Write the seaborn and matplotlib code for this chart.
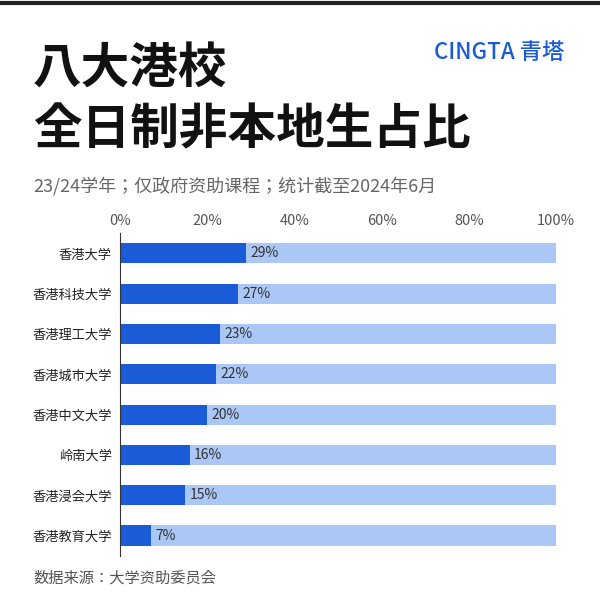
import matplotlib
matplotlib.use("Agg")
import matplotlib.pyplot as plt
from matplotlib import font_manager as fm
import seaborn as sns
import pandas as pd
import glob

for f in glob.glob("/usr/share/fonts/**/*CJK*", recursive=True) + glob.glob("/usr/share/fonts/**/*Noto*Sans*SC*", recursive=True):
    try:
        fm.fontManager.addfont(f)
    except Exception:
        pass
names = sorted({f.name for f in fm.fontManager.ttflist if "CJK" in f.name})
plt.rcParams["font.family"] = ["Noto Sans CJK SC", "Noto Sans CJK JP"] + names + ["DejaVu Sans"]

schools = ["香港大学", "香港科技大学", "香港理工大学", "香港城市大学", "香港中文大学", "岭南大学", "香港浸会大学", "香港教育大学"]
values = [29, 27, 23, 22, 20, 16, 15, 7]
ticks = [0, 20, 40, 60, 80, 100]
tick_labels = ["0%", "20%", "40%", "60%", "80%", "100%"]

df = pd.DataFrame({"school": schools, "value": values, "full": [100] * len(schools)})

fig = plt.figure(figsize=(6, 5.95), dpi=100)
ax = fig.add_axes([0.2, 0.066, 0.727, 0.542])
sns.barplot(data=df, y="school", x="full", color="#aac7f6", width=0.5, ax=ax, saturation=1)
sns.barplot(data=df, y="school", x="value", color="#1a5cd7", width=0.5, ax=ax, saturation=1)
for i, v in enumerate(values):
    ax.text(v + 1, i, f"{v}%", va="center", ha="left", fontsize=10, color="#333333")

ax.set_xlim(0, 100)
ax.set_xticks(ticks)
ax.set_xticklabels(tick_labels)
ax.xaxis.tick_top()
ax.tick_params(axis="x", length=0, labelsize=10.5, colors="#555555", pad=4)
ax.tick_params(axis="y", length=0, labelsize=9.5, colors="#222222", pad=6)
ax.set_xlabel("")
ax.set_ylabel("")
for s in ["top", "right", "bottom"]:
    ax.spines[s].set_visible(False)
ax.spines["left"].set_color("#333333")

fig.add_artist(plt.Line2D([0, 1], [0.995, 0.995], color="#222222", lw=3))
fig.text(0.055, 0.884, "八大港校", fontsize=35, fontweight="bold", color="#111111", va="center")
fig.text(0.055, 0.782, "全日制非本地生占比", fontsize=35, fontweight="bold", color="#111111", va="center")
fig.text(0.94, 0.912, "CINGTA 青塔", fontsize=16, fontweight="medium", color="#1a5cd7", ha="right", va="center")
fig.text(0.055, 0.688, "23/24学年；仅政府资助课程；统计截至2024年6月", fontsize=13, color="#666666", va="center")
fig.text(0.055, 0.028, "数据来源：大学资助委员会", fontsize=11, color="#555555", va="center")

fig.savefig("out.png", dpi=100)
